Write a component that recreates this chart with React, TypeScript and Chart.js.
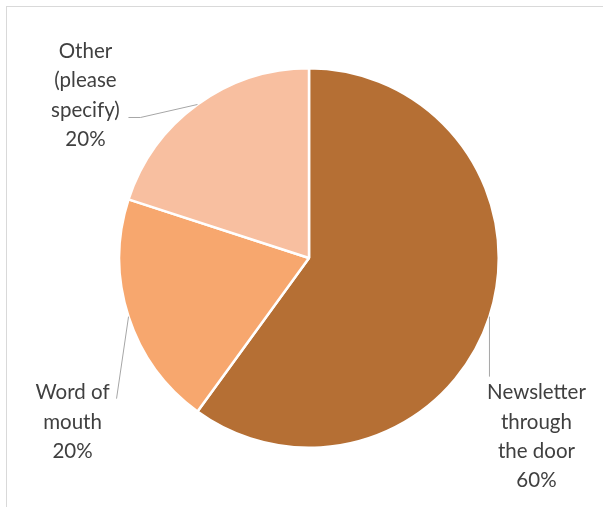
import React, { useEffect, useRef } from "react";
import { Chart, registerables } from "chart.js";

Chart.register(...registerables);

const categories = ["Newsletter through the door", "Word of mouth", "Other (please specify)"];
const labelLines = [
  ["Newsletter", "through", "the door"],
  ["Word of", "mouth"],
  ["Other", "(please", "specify)"],
];
const values = [60, 20, 20];
const colors = ["#B56F34", "#F7A76E", "#F8BFA0"];

// label layout relative to each slice's mid-angle edge point
const labelLayout = [
  { dx: 47, dy: 76, line: [[0, 60]] },
  { dx: -56, dy: 76, line: [[-12, 82]] },
  { dx: -112, dy: -53, line: [[-57, 13], [-69, 13]] },
];

const labelPlugin = {
  id: "pieLabels",
  afterDatasetsDraw(chart: any) {
    const ctx = chart.ctx;
    const meta = chart.getDatasetMeta(0);
    const data = chart.data.datasets[0].data as number[];
    const total = data.reduce((a, b) => a + b, 0);
    meta.data.forEach((arc: any, i: number) => {
      const { x, y, startAngle, endAngle, outerRadius } = arc.getProps(
        ["x", "y", "startAngle", "endAngle", "outerRadius"],
        true
      );
      const mid = (startAngle + endAngle) / 2;
      const ax = x + Math.cos(mid) * outerRadius;
      const ay = y + Math.sin(mid) * outerRadius;
      const lay = labelLayout[i];
      ctx.save();
      ctx.strokeStyle = "#A6A6A6";
      ctx.lineWidth = 1;
      ctx.beginPath();
      ctx.moveTo(ax, ay);
      lay.line.forEach(([lx, ly]) => ctx.lineTo(ax + lx, ay + ly));
      ctx.stroke();
      ctx.fillStyle = "#404040";
      ctx.font = "20.5px Lato, 'Open Sans', sans-serif";
      ctx.textAlign = "center";
      ctx.textBaseline = "middle";
      const lines = [...labelLines[i], Math.round((data[i] / total) * 100) + "%"];
      lines.forEach((t, k) => {
        ctx.fillText(t, ax + lay.dx, ay + lay.dy + k * 29.3);
      });
      ctx.restore();
    });
  },
};

export default function App() {
  const ref = useRef<HTMLCanvasElement>(null);
  useEffect(() => {
    if (!ref.current) return;
    const chart = new Chart(ref.current, {
      type: "pie",
      data: {
        labels: categories,
        datasets: [
          {
            data: values,
            backgroundColor: colors,
            borderColor: "#FFFFFF",
            borderWidth: 2.5,
          },
        ],
      },
      options: {
        animation: false,
        responsive: false,
        layout: { padding: { left: 117, right: 102, top: 67, bottom: 58 } },
        plugins: { legend: { display: false }, tooltip: { enabled: false } },
      },
      plugins: [labelPlugin],
    });
    return () => chart.destroy();
  }, []);
  return (
    <div style={{ position: "fixed", left: 0, top: 0, width: 603, height: 507, background: "#fff", overflow: "hidden" }}>
      <div
        style={{
          position: "absolute",
          left: 6,
          top: 6,
          width: 700,
          height: 700,
          border: "1px solid #D9D9D9",
        }}
      />
      <canvas ref={ref} width={603} height={507} style={{ position: "absolute", left: 0, top: 0 }} />
    </div>
  );
}
